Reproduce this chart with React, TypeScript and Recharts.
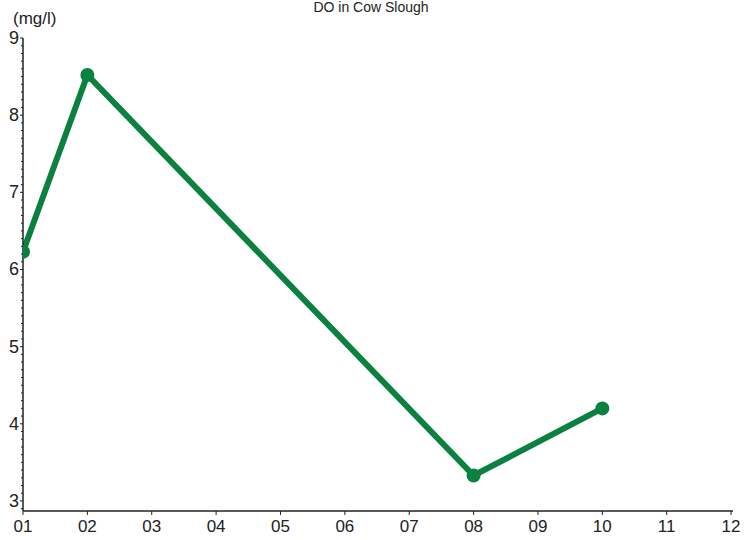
import React from 'react';
import { LineChart, Line, XAxis, YAxis } from 'recharts';

const months = [1, 2, 8, 10];
const doValues = [6.23, 8.52, 3.33, 4.2];
const xTicks = [1, 2, 3, 4, 5, 6, 7, 8, 9, 10, 11, 12];
const xTickLabels = ['01', '02', '03', '04', '05', '06', '07', '08', '09', '10', '11', '12'];
const yMajorTicks = [3, 4, 5, 6, 7, 8, 9];
const title = 'DO in Cow Slough';
const unitLabel = '(mg/l)';

const data = months.map((m, i) => ({ month: m, value: doValues[i] }));

const yAllTicks: number[] = [];
for (let i = 29; i <= 90; i++) yAllTicks.push(i / 10);

const FONT = 'Liberation Sans, Arial, sans-serif';

const YTick = (props: any) => {
  const { x, y, payload } = props;
  const v = payload.value;
  const isMajor = yMajorTicks.some((t) => Math.abs(v - t) < 1e-6);
  return (
    <g>
      <line x1={x} x2={x - (isMajor ? 3 : 2)} y1={y} y2={y} stroke="#222" strokeWidth={1} />
      {isMajor && (
        <text x={x - 4} y={y} dy={6} textAnchor="end" fontSize={18} fill="#222" fontFamily={FONT}>
          {Math.round(v)}
        </text>
      )}
    </g>
  );
};

const XTick = (props: any) => {
  const { x, y, payload } = props;
  const idx = xTicks.indexOf(payload.value);
  return (
    <g>
      <line x1={x} x2={x} y1={y} y2={y + 4} stroke="#222" strokeWidth={1} />
      <text x={x} y={y + 21} textAnchor="middle" fontSize={17} fill="#222" fontFamily={FONT}>
        {xTickLabels[idx]}
      </text>
    </g>
  );
};

export default function App() {
  return (
    <div style={{ position: 'absolute', left: 0, top: 0, width: 751, height: 540, background: '#fff' }}>
      <LineChart
        width={751}
        height={540}
        data={data}
        margin={{ top: 38, right: 18, bottom: 0, left: 0 }}
      >
        <XAxis
          dataKey="month"
          type="number"
          domain={[1, 12.03]}
          ticks={xTicks}
          interval={0}
          height={29}
          tickSize={0}
          tickMargin={0}
          tickLine={false}
          axisLine={{ stroke: '#222', strokeWidth: 1.5 }}
          tick={<XTick />}
          allowDataOverflow
        />
        <YAxis
          type="number"
          domain={[2.87, 9]}
          ticks={yAllTicks}
          interval={0}
          width={23}
          tickSize={0}
          tickMargin={0}
          tickLine={false}
          axisLine={{ stroke: '#222', strokeWidth: 1.5 }}
          tick={<YTick />}
          allowDataOverflow
        />
        <XAxis
          xAxisId="top"
          orientation="top"
          type="number"
          domain={[1, 12.03]}
          height={0}
          tick={false}
          tickLine={false}
          axisLine={{ stroke: '#444', strokeWidth: 1.5 }}
        />
        <YAxis
          yAxisId="right"
          orientation="right"
          type="number"
          domain={[2.87, 9]}
          width={0}
          tick={false}
          tickLine={false}
          axisLine={{ stroke: '#444', strokeWidth: 1.5 }}
        />
        <Line
          type="linear"
          dataKey="value"
          stroke="#0b8140"
          strokeWidth={6}
          dot={{ r: 7, fill: '#0b8140', stroke: 'none' }}
          activeDot={false}
          isAnimationActive={false}
        />
        <text x={371} y={12} textAnchor="middle" fontSize={14} fill="#222" fontFamily={FONT}>
          {title}
        </text>
        <text x={13} y={24} textAnchor="start" fontSize={17} fill="#222" fontFamily={FONT}>
          {unitLabel}
        </text>
      </LineChart>
    </div>
  );
}
